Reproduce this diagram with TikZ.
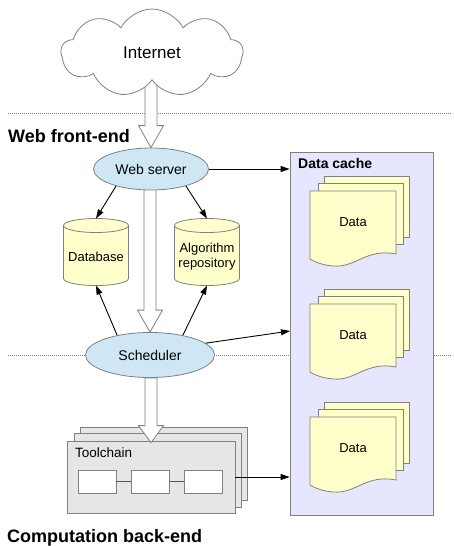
\documentclass[tikz,border=0pt]{standalone}
\usepackage{fontspec}
\setmainfont{Liberation Sans}
\usetikzlibrary{shapes.symbols,shapes.geometric,arrows.meta,calc,backgrounds}

\definecolor{bordergray}{HTML}{808080}
\definecolor{blueish}{HTML}{CFE7F5}
\definecolor{yell}{HTML}{FFFFCC}
\definecolor{lav}{HTML}{E6E6FF}
\definecolor{tgray}{HTML}{E6E6E6}
\definecolor{darkline}{HTML}{555555}

\newcommand\drawcyl[1]{%
  \draw[cylfill] ($(#1.north west)+(0,7)$) -- ($(#1.south west)+(0,-7)$)
    arc[start angle=180,end angle=360,x radius=32.5pt,y radius=7pt]
    -- ($(#1.north east)+(0,7)$)
    arc[start angle=0,end angle=180,x radius=32.5pt,y radius=7pt] -- cycle;
  \draw[cylline] ($(#1.north west)+(0,7)$)
    arc[start angle=180,end angle=360,x radius=32.5pt,y radius=7pt];
}
\newcommand\docstack[2]{%
  \draw[sheet] (324,#2-15) rectangle (409,#2+46);
  \draw[sheet] (318,#2-8) rectangle (403,#2+53);
  \draw[sheet] (310,#2) -- (396,#2) -- (396,#2+63)
    .. controls (366,#2+57) and (356,#2+77) .. (333,#2+75)
    .. controls (322,#2+74) and (315,#2+71) .. (310,#2+68) -- cycle;
  \node[txt] (#1) at (353,#2+31) {Data};
}
\newcommand\hollowarr[3]{%
  \draw[hollow] let \p1=(#1), \p2=(#2) in
   (\x2-6pt,\y1) -- (\x2-6pt,\y2+#3pt) -- (\x2-12.5pt,\y2+#3pt) -- (\x2,\y2)
   -- (\x2+12.5pt,\y2+#3pt) -- (\x2+6pt,\y2+#3pt) -- (\x2+6pt,\y1) -- cycle;
}

\begin{document}
\begin{tikzpicture}[x=1pt,y=-1pt,
 ell/.style={ellipse, draw=bordergray, fill=blueish, inner sep=0pt, line width=0.8pt,
   font=\fontsize{14}{16}\selectfont},
 arr/.style={-{Triangle[length=9pt,width=6pt]}, line width=0.9pt, black},
 hollow/.style={draw=bordergray, fill=white, line width=0.8pt},
 sep/.style={draw=bordergray, dash pattern=on 1pt off 1pt, line width=0.8pt},
 sheet/.style={draw=bordergray, fill=yell, line width=0.8pt},
 cylfill/.style={draw=bordergray, fill=yell, line width=0.8pt},
 cylline/.style={draw=bordergray, line width=0.8pt},
 txt/.style={font=\fontsize{13}{15}\selectfont, align=center, inner sep=0pt},
 head/.style={font=\bfseries\fontsize{18}{21}\selectfont, inner sep=0pt, anchor=base west},
 tbox/.style={draw=bordergray, fill=white, minimum width=38pt, minimum height=23pt,
   inner sep=0pt, line width=0.8pt},
 tcbox/.style={draw=bordergray, fill=tgray, line width=0.8pt},
 shape holder/.style={inner sep=0pt, outer sep=0pt},
]
\useasboundingbox (0,0) rectangle (454,546);

% cloud
\node[cloud, cloud puffs=9, cloud puff arc=125, aspect=2.1, draw=bordergray, fill=white,
  minimum width=182pt, minimum height=88pt, inner sep=0pt, line width=0.8pt,
  font=\fontsize{17}{20}\selectfont] (inet) at (152,53) {Internet};

% headings
\node[head] (hweb) at (8,142) {Web front-end};
\node[head] (hcomp) at (7,542) {Computation back-end};

% ellipses
\node[ell, minimum width=115pt, minimum height=42pt] (ws) at (151,169) {Web server};
\node[ell, minimum width=129pt, minimum height=45pt] (sch) at (150,355) {Scheduler};

% cylinders
\node[shape holder, minimum width=65pt, minimum height=67pt] (db) at (96,252) {};
\node[shape holder, minimum width=65pt, minimum height=67pt] (alg) at (207,252) {};
\drawcyl{db}
\drawcyl{alg}
\node[txt] (dbt) at ($(db.center)+(0,5)$) {Database};
\node[txt] (algt) at ($(alg.center)+(0,5)$) {Algorithm\\repository};

% data cache
\node[draw=bordergray, fill=lav, minimum width=143pt, minimum height=363pt, inner sep=0pt,
  line width=0.8pt] (cache) at (361.5,333.5) {};
\node[font=\bfseries\fontsize{14}{16}\selectfont, anchor=west, inner sep=0pt] (ctitle)
  at (298,163) {Data cache};
\docstack{d1}{191}
\docstack{d2}{304}
\docstack{d3}{417}

% toolchain
\draw[tcbox] (80,427) rectangle (247,500);
\draw[tcbox] (74,433) rectangle (241,507);
\node[tcbox, minimum width=168pt, minimum height=72pt, inner sep=0pt] (tc) at (151,477) {};
\node[anchor=west, inner sep=0pt, font=\fontsize{13.5}{16}\selectfont] (tct) at (75,453) {Toolchain};
\node[tbox] (t1) at (97,481.5) {};
\node[tbox] (t2) at (150,481.5) {};
\node[tbox] (t3) at (203,481.5) {};
\draw[darkline, line width=1.4pt] (t1) -- (t2);
\draw[darkline, line width=1.4pt] (t2) -- (t3);

% connectors
\draw[arr] (ws.east) -- (ws.east -| cache.west);
\draw[arr] (ws.206) -- (db.north);
\draw[arr] (ws.334) -- (alg.north);
\draw[arr] (sch.149) -- (db.south);
\draw[arr] (sch.31) -- (alg.south);
\coordinate (cin) at (290,331);
\draw[arr] (sch.12) -- (cin);
\draw[arr] (tc.east) -- (tc.east -| cache.west);

% hollow arrow into toolchain
\hollowarr{sch.south}{$(tc.north)+(0,2)$}{17}

\begin{scope}[on background layer]
\draw[sep] (8,113) -- (452,113);
\draw[sep] (8,355) -- (452,355);
\hollowarr{inet.center}{ws.north}{22}
\hollowarr{ws.center}{sch.north}{22}
\end{scope}
\end{tikzpicture}
\end{document}
